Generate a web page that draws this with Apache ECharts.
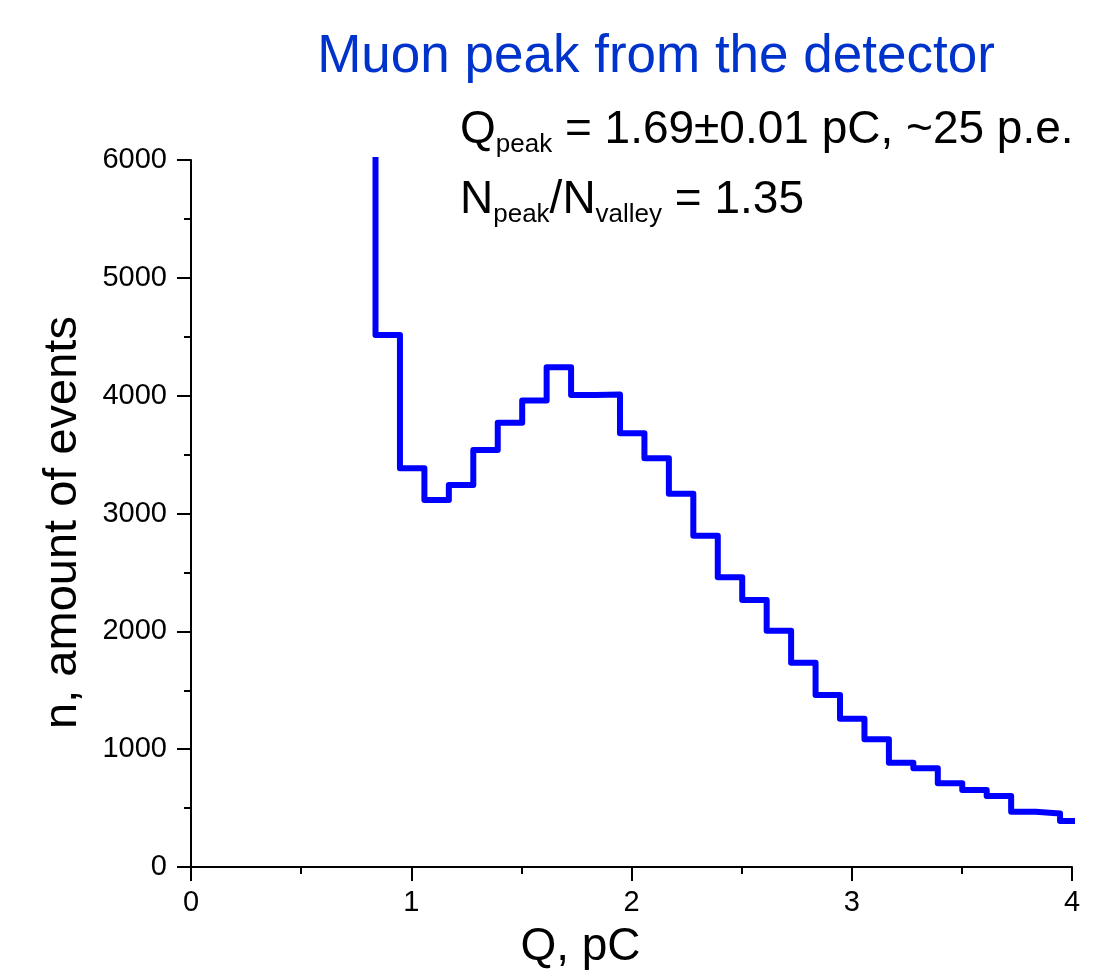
<!DOCTYPE html>
<html>
<head>
<meta charset="utf-8">
<title>Muon peak from the detector</title>
<script src="https://cdn.jsdelivr.net/npm/echarts@6/dist/echarts.min.js"></script>
<style>
  html, body { margin: 0; padding: 0; background: #fff; }
  #chart { width: 1111px; height: 970px; }
</style>
</head>
<body>
<div id="chart"></div>
<script>
// charge histogram, equal bins; the first bin is off scale (above 6000)
var binStart = 0.7267
var binWidth = 0.111
var counts = [7600, 4515, 3383, 3114, 3242, 3539, 3771, 3958, 4241, 4006, 4010,
  3680, 3468, 3168, 2812, 2459, 2266, 2006, 1734, 1460, 1258, 1085, 885, 837,
  710, 653, 602, 469, 455, 390]
var xTicks = [0, 1, 2, 3, 4]
var yTicks = [0, 1000, 2000, 3000, 4000, 5000, 6000]

var font = 'Liberation Sans, Arial, sans-serif'

// left edge of every bin + right edge of the last one, drawn as steps
var points = counts.map(function(c, i) {
  return [binStart + i * binWidth, c]
})
points.push([binStart + counts.length * binWidth, counts[counts.length - 1]])

var chart = echarts.init(document.getElementById('chart'))
chart.setOption({
  animation: false,
  backgroundColor: '#fff',
  grid: { left: 191, right: 39, top: 160, bottom: 103, containLabel: false, outerBoundsMode: 'none' },
  xAxis: {
    type: 'value',
    min: xTicks[0],
    max: xTicks[xTicks.length - 1],
    interval: xTicks[1] - xTicks[0],
    name: 'Q, pC',
    nameLocation: 'middle',
    nameGap: 57,
    nameTextStyle: { fontSize: 46, fontFamily: font, color: '#000', padding: [0, 102, 0, 0] },
    axisLine: { lineStyle: { color: '#000', width: 2 } },
    axisTick: { length: 14, lineStyle: { color: '#000', width: 2 } },
    minorTick: { show: true, splitNumber: 2, length: 7, lineStyle: { color: '#000', width: 2 } },
    splitLine: { show: false },
    axisLabel: { fontSize: 29, fontFamily: font, color: '#000', margin: 21 }
  },
  yAxis: {
    type: 'value',
    min: yTicks[0],
    max: yTicks[yTicks.length - 1],
    interval: yTicks[1] - yTicks[0],
    name: 'n, amount of events',
    nameLocation: 'middle',
    nameGap: 104,
    nameTextStyle: { fontSize: 47, fontFamily: font, color: '#000', padding: [0, 18, 0, 0] },
    axisLine: { show: true, lineStyle: { color: '#000', width: 2 } },
    axisTick: { show: true, length: 14, lineStyle: { color: '#000', width: 2 } },
    minorTick: { show: true, splitNumber: 2, length: 7, lineStyle: { color: '#000', width: 2 } },
    splitLine: { show: false },
    axisLabel: {
      fontSize: 29, fontFamily: font, color: '#000', margin: 24,
      formatter: function(v) { return String(v) }
    }
  },
  series: [
    {
      type: 'line',
      step: 'end',
      data: points,
      showSymbol: false,
      clip: true,
      lineStyle: { color: '#0000ff', width: 6, join: 'round' }
    }
  ],
  graphic: [
    {
      type: 'text',
      x: 656,
      y: 57,
      style: {
        text: 'Muon peak from the detector',
        fontSize: 53,
        fontFamily: font,
        fill: '#0033cc',
        align: 'center',
        verticalAlign: 'middle'
      }
    },
    {
      type: 'text',
      x: 460,
      y: 102,
      style: {
        text: '{m|Q}{s|peak}{m| = 1.69±0.01 pC, ~25 p.e.}',
        fontFamily: font,
        fill: '#000',
        rich: {
          m: { fontSize: 46, lineHeight: 56, fontFamily: font },
          s: { fontSize: 26, lineHeight: 26, fontFamily: font, verticalAlign: 'bottom' }
        }
      }
    },
    {
      type: 'text',
      x: 460,
      y: 172,
      style: {
        text: '{m|N}{s|peak}{m|/N}{s|valley}{m| = 1.35}',
        fontFamily: font,
        fill: '#000',
        rich: {
          m: { fontSize: 46, lineHeight: 56, fontFamily: font },
          s: { fontSize: 26, lineHeight: 26, fontFamily: font, verticalAlign: 'bottom' }
        }
      }
    }
  ]
})
</script>
</body>
</html>
